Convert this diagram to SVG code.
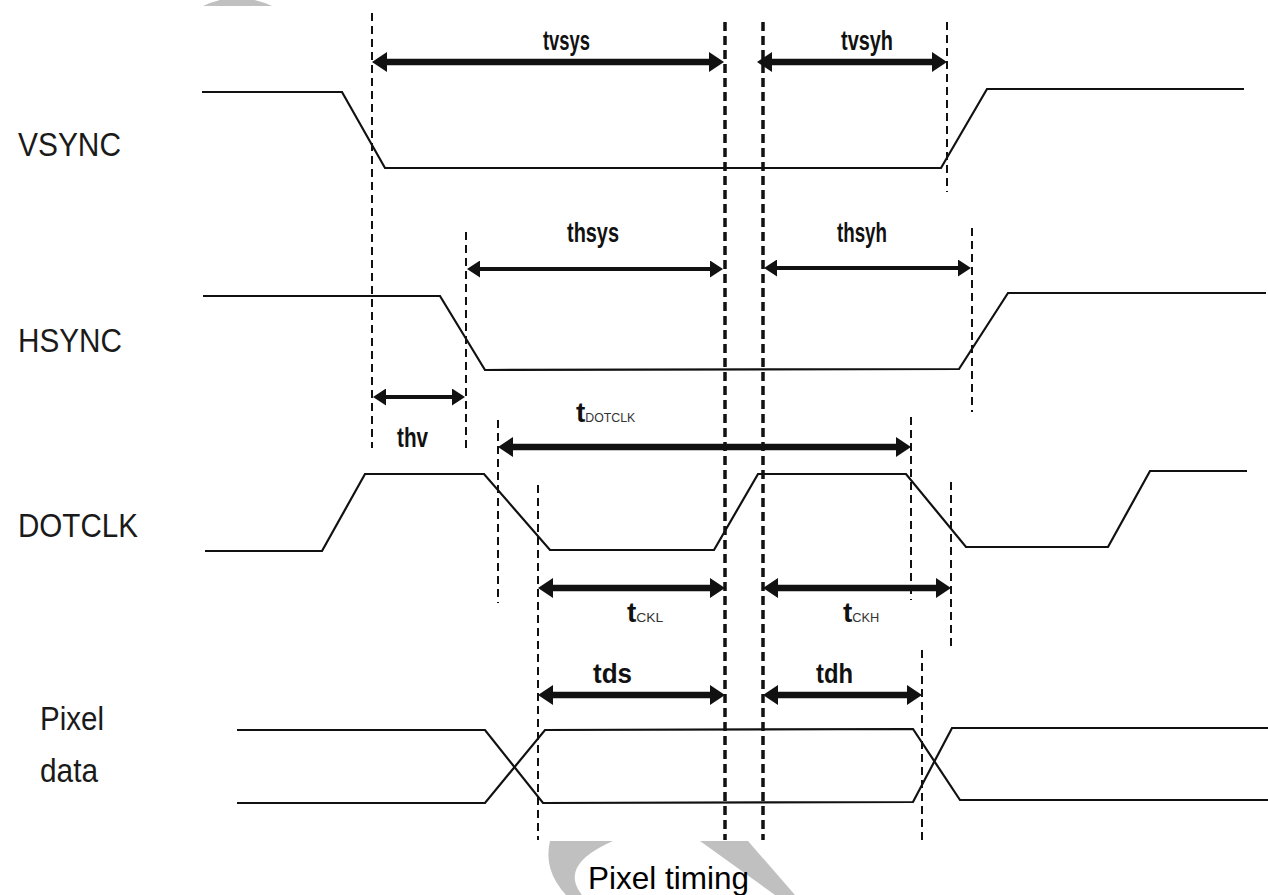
<svg xmlns="http://www.w3.org/2000/svg" width="1268" height="895" viewBox="0 0 1268 895">
<style>
.sig{fill:none;stroke:#111;stroke-width:2.2;stroke-linejoin:miter}
.dash{stroke:#111;stroke-width:2;stroke-dasharray:8 5;fill:none}
.dashb{stroke:#111;stroke-width:3.5;stroke-dasharray:9 5;fill:none}
.arrL{stroke:#111;stroke-width:6.5;fill:none;marker-start:url(#ahL);marker-end:url(#ahL)}
.arrS{stroke:#111;stroke-width:4;fill:none;marker-start:url(#ahS);marker-end:url(#ahS)}
.name{font-family:"Liberation Sans",Arial,sans-serif;font-size:33px;fill:#1a1a1a}
.tl{font-family:"Liberation Sans",Arial,sans-serif;font-size:28px;font-weight:bold;fill:#111}
.sub{font-size:13px;font-weight:normal;fill:#333}
.cap{font-family:"Liberation Sans",Arial,sans-serif;font-size:32px;fill:#000}
.wm{fill:#c0c0c0}
</style>
<defs>
<marker id="ahL" viewBox="0 0 15 20" refX="5" refY="10" markerWidth="15" markerHeight="20" markerUnits="userSpaceOnUse" orient="auto-start-reverse">
<path d="M0,0 L15,10 L0,20 Z" fill="#111"/>
</marker>
<marker id="ahS" viewBox="0 0 13 17" refX="4" refY="8.5" markerWidth="13" markerHeight="17" markerUnits="userSpaceOnUse" orient="auto-start-reverse">
<path d="M0,0 L13,8.5 L0,17 Z" fill="#111"/>
</marker>
</defs>
<rect width="1268" height="895" fill="#fff"/>
<g id="watermark">
<path class="wm" d="M203,6 Q237,-10 272,6 Z"/>
<path class="wm" d="M550,841 L613,841 Q558,865 582,895 L566,895 Q543,870 550,841 Z"/>
<path class="wm" d="M700,841 L748,841 L795,895 L775,895 Z"/>
</g>
<g id="vsync">
<text class="name" x="18" y="156" textLength="103" lengthAdjust="spacingAndGlyphs">VSYNC</text>
<path class="sig" d="M202,92 L342,92 L385,168 L941,168 L987,89 L1244,89"/>
</g>
<g id="hsync">
<text class="name" x="18" y="352" textLength="104" lengthAdjust="spacingAndGlyphs">HSYNC</text>
<path class="sig" d="M203,296 L440,296 L485,370 L959,369 L1008,293 L1266,293"/>
</g>
<g id="dotclk">
<text class="name" x="18" y="537" textLength="120" lengthAdjust="spacingAndGlyphs">DOTCLK</text>
<path class="sig" d="M205,551 L322,551 L365,474 L484,474 L550,550 L714,550 L758,474 L906,474 L966,547 L1108,547 L1150,471 L1247,471"/>
</g>
<g id="pixel-data">
<text class="name" x="40" y="730" textLength="64" lengthAdjust="spacingAndGlyphs">Pixel</text>
<text class="name" x="40" y="782" textLength="58" lengthAdjust="spacingAndGlyphs">data</text>
<path class="sig" d="M237,730 L485,730 L543,803 L913,802 L952,728 L1268,728"/>
<path class="sig" d="M237,803 L485,803 L545,730 L913,729 L960,800 L1268,800"/>
</g>
<g id="connectors">
<line class="dash" x1="372" y1="13" x2="372" y2="448"/>
<line class="dashb" x1="725" y1="22" x2="725" y2="840"/>
<line class="dashb" x1="763" y1="22" x2="763" y2="840"/>
<line class="dash" x1="947" y1="22" x2="947" y2="192"/>
<line class="dash" x1="466" y1="232" x2="466" y2="448"/>
<line class="dash" x1="972" y1="228" x2="972" y2="412"/>
<line class="dash" x1="498" y1="420" x2="498" y2="603"/>
<line class="dash" x1="538" y1="485" x2="538" y2="840"/>
<line class="dash" x1="911" y1="417" x2="911" y2="600"/>
<line class="dash" x1="951" y1="482" x2="951" y2="648"/>
<line class="dash" x1="922" y1="650" x2="922" y2="840"/>
<line class="arrL" x1="382" y1="62" x2="714" y2="62" stroke-width="7"/>
<line class="arrL" x1="767" y1="62" x2="937" y2="62"/>
<line class="arrS" x1="476" y1="269" x2="714" y2="269"/>
<line class="arrS" x1="773" y1="268" x2="962" y2="268"/>
<line class="arrS" x1="382" y1="397" x2="456" y2="397"/>
<line class="arrL" x1="508" y1="447" x2="901" y2="447" stroke-width="7"/>
<line class="arrL" x1="548" y1="588" x2="715" y2="588"/>
<line class="arrL" x1="773" y1="588" x2="941" y2="588"/>
<line class="arrL" x1="548" y1="695" x2="715" y2="695"/>
<line class="arrL" x1="773" y1="695" x2="912" y2="695"/>
</g>
<g id="timing-labels">
<text class="tl" x="543" y="50" textLength="47" lengthAdjust="spacingAndGlyphs">tvsys</text>
<text class="tl" x="841" y="50" textLength="52" lengthAdjust="spacingAndGlyphs">tvsyh</text>
<text class="tl" x="567" y="242" textLength="52" lengthAdjust="spacingAndGlyphs">thsys</text>
<text class="tl" x="837" y="242" textLength="50" lengthAdjust="spacingAndGlyphs">thsyh</text>
<text class="tl" x="397" y="447" textLength="31" lengthAdjust="spacingAndGlyphs">thv</text>
<text class="tl" x="576" y="422">t<tspan class="sub" textLength="50" lengthAdjust="spacingAndGlyphs">DOTCLK</tspan></text>
<text class="tl" x="627" y="622">t<tspan class="sub" textLength="27" lengthAdjust="spacingAndGlyphs">CKL</tspan></text>
<text class="tl" x="843" y="622">t<tspan class="sub" textLength="27" lengthAdjust="spacingAndGlyphs">CKH</tspan></text>
<text class="tl" x="593" y="683" textLength="39" lengthAdjust="spacingAndGlyphs">tds</text>
<text class="tl" x="816" y="683" textLength="37" lengthAdjust="spacingAndGlyphs">tdh</text>
</g>
<g id="caption">
<text class="cap" x="588" y="889" textLength="161" lengthAdjust="spacingAndGlyphs">Pixel timing</text>
</g>
</svg>
